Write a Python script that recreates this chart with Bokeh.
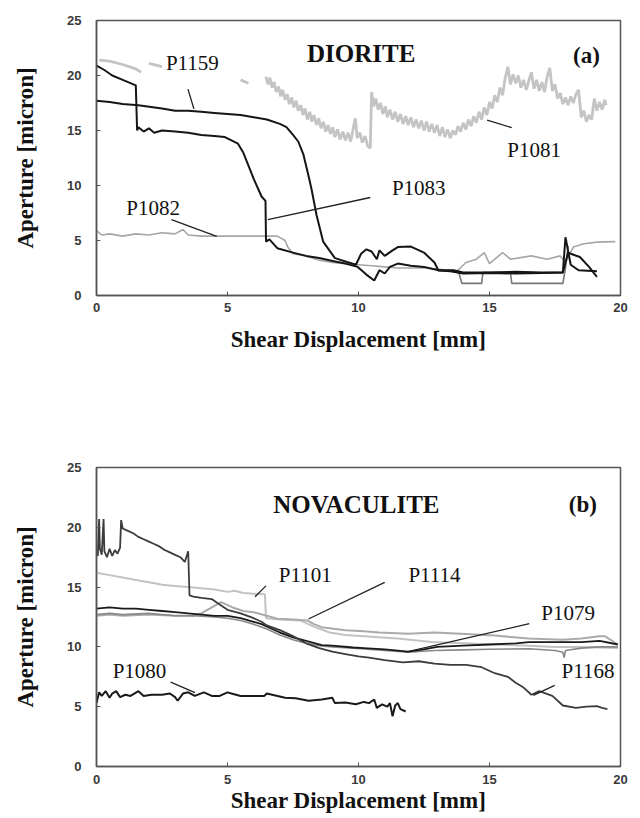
from bokeh.plotting import figure
from bokeh.layouts import column
from bokeh.models import Label, FixedTicker, Range1d
from bokeh.embed import file_html
from bokeh.resources import INLINE

NaN = float("nan")

# ---------------- Panel (a): DIORITE ----------------
P1081_x = [0.1, 0.5, 1.0, 1.5, 1.7, NaN, 2.0, 2.5, NaN, 5.5, 5.8, NaN,
           6.46, 6.55, 6.62, 6.7, 6.78, 6.86, 6.95, 7.03, 7.1, 7.2, 7.28, 7.36, 7.45, 7.53, 7.62, 7.7, 7.8, 7.88,
           7.96, 8.05, 8.14, 8.22, 8.3, 8.4, 8.48, 8.57, 8.66, 8.75, 8.84, 8.93, 9.02, 9.1, 9.2, 9.3, 9.4, 9.5,
           9.6, 9.7, 9.8, 9.88, 9.95, 10.05, 10.15, 10.25, 10.35, 10.45, 10.5, 10.58, 10.66, 10.75, 10.84, 10.93,
           11.02, 11.1, 11.2, 11.3, 11.4, 11.5, 11.6, 11.7, 11.8, 11.9, 12.0, 12.1, 12.2, 12.3, 12.4, 12.5, 12.6,
           12.7, 12.8, 12.9, 13.0, 13.1, 13.2, 13.3, 13.4, 13.5, 13.6, 13.7, 13.8, 13.9, 14.0, 14.1, 14.2, 14.3,
           14.4, 14.5, 14.6, 14.7, 14.8, 14.9, 15.0, 15.1, 15.2, 15.3, 15.4, 15.5, 15.6, 15.7, 15.8, 15.9, 16.0,
           16.1, 16.2, 16.3, 16.4, 16.5, 16.6, 16.7, 16.8, 16.9, 17.0, 17.1, 17.2, 17.3, 17.4, 17.5, 17.6, 17.7,
           17.8, 17.9, 18.0, 18.1, 18.2, 18.3, 18.4, 18.5, 18.6, 18.7, 18.8, 18.9, 19.0, 19.1, 19.2, 19.3, 19.4, 19.45]
P1081_y = [21.4, 21.3, 21.0, 20.6, 20.3, NaN, 21.1, 20.8, NaN, 19.6, 19.3, NaN,
           19.9, 19.2, 19.8, 18.9, 19.4, 18.5, 19.0, 18.1, 18.7, 17.8, 18.3, 17.4, 18.0, 17.1, 17.7, 16.8, 17.3, 16.4,
           17.0, 16.0, 16.7, 15.8, 16.4, 15.5, 16.1, 15.2, 15.8, 14.9, 15.5, 14.7, 15.3, 14.4, 15.1, 14.2, 14.9, 14.1,
           14.8, 14.0, 15.2, 16.1, 14.3, 14.8, 13.9, 14.5, 13.6, 13.4, 18.5, 17.2, 17.9, 16.9, 17.5, 16.5,
           17.2, 16.2, 16.9, 16.0, 16.7, 15.8, 16.5, 15.6, 16.3, 15.5, 16.2, 15.3, 16.0, 15.2, 15.9, 15.0, 15.8,
           14.9, 15.6, 14.8, 15.5, 14.5, 15.3, 14.4, 15.1, 14.3, 15.0, 14.6, 15.4, 14.9, 15.7, 15.1, 16.0, 15.4,
           16.3, 15.7, 16.7, 16.0, 17.1, 16.4, 17.6, 17.0, 18.2, 17.6, 18.9, 18.2, 19.8, 20.8, 19.2, 20.1, 19.3,
           20.0, 18.9, 19.6, 18.7, 19.5, 20.3, 18.8, 19.6, 18.6, 19.4, 18.5, 19.9, 20.7, 18.6, 19.2, 17.9, 18.4,
           17.4, 18.0, 17.3, 18.1, 17.5, 18.3, 18.7, 16.2, 16.8, 15.8, 16.4, 16.0, 17.9, 16.8, 17.6, 16.9, 17.8, 17.3]

P1159_x = [0.0, 0.5, 1.0, 1.6, 2.5, 3.0, 3.5, 4.0, 4.5, 5.0, 5.5, 6.0, 6.5, 7.0, 7.25, 7.5, 7.7, 7.9, 8.1, 8.2,
           8.4, 8.65, 9.1, 9.9, 10.1, 10.3, 10.5, 10.7, 10.8, 11.0, 11.3, 11.5, 12.0, 12.5, 12.9, 13.05, 13.5,
           14.0, 15.0, 16.0, 17.0, 17.8, 18.0, 18.1, 18.45, 18.8, 19.1]
P1159_y = [17.7, 17.6, 17.4, 17.3, 17.0, 16.8, 16.8, 16.7, 16.6, 16.5, 16.4, 16.2, 16.0, 15.6, 15.3, 14.6, 14.0, 12.8,
           10.8, 9.75, 7.3, 4.9, 3.4, 2.8, 3.8, 4.2, 4.0, 3.3, 4.1, 3.6, 4.1, 4.4, 4.45, 3.9, 3.0, 2.27, 2.2,
           2.0, 2.05, 2.0, 2.05, 2.1, 3.9, 3.8, 3.5, 2.6, 1.7]

P1083_x = [0.0, 0.3, 0.6, 1.0, 1.5, 1.55, 1.6, 1.8, 2.0, 2.2, 2.5, 3.0, 3.5, 4.0, 4.5, 4.9, 5.4, 5.6, 5.8, 6.0,
           6.3, 6.45, 6.47, 6.6, 6.9, 7.5, 8.0, 8.5, 9.1, 9.5, 9.97, 10.3, 10.6, 10.8, 11.0, 11.2, 11.5, 12.0,
           12.5, 13.05, 13.6, 14.0, 15.0, 16.0, 17.0, 17.8, 17.9, 18.1, 18.4, 19.1]
P1083_y = [20.9, 20.5, 20.0, 19.6, 19.1, 15.0, 15.3, 14.9, 15.2, 14.8, 15.0, 14.9, 14.8, 14.6, 14.5, 14.4, 13.8,
           13.0, 11.8, 10.6, 9.0, 8.6, 4.9, 5.1, 4.3, 3.9, 3.6, 3.4, 3.1, 2.9, 2.6, 1.9, 1.36, 2.3, 2.0, 2.6, 2.9,
           2.7, 2.6, 2.3, 2.3, 2.1, 2.1, 2.15, 2.1, 2.1, 5.3, 2.8, 2.3, 2.2]

P1082_x = [0.0, 0.2, 0.5, 1.0, 1.5, 2.0, 2.5, 3.0, 3.3, 3.5, 4.0, 4.5, 6.9, 7.2, 7.3, 7.5, 8.0, 8.5, 9.0, 9.5,
           10.0, 10.5, 11.0, 11.5, 12.0, 12.5, 13.0, 13.5, 13.8, 14.1, 14.5, 14.8, 15.0, 15.5, 15.8, 16.6, 17.2,
           17.7, 17.9, 18.2, 18.6, 19.1, 19.8]
P1082_y = [5.9, 5.5, 5.6, 5.4, 5.6, 5.5, 5.7, 5.6, 6.0, 5.5, 5.4, 5.4, 5.4, 5.0, 4.4, 3.8, 3.6, 3.2, 3.0, 2.9,
           2.8, 2.7, 2.6, 2.5, 2.5, 2.5, 2.4, 2.3, 2.3, 3.0, 3.3, 3.9, 2.9, 3.9, 3.3, 3.6, 3.3,
           3.6, 3.0, 4.4, 4.7, 4.85, 4.9]

STEP_x = [13.8, 13.95, 14.7, 14.75, 15.8, 15.85, 17.8, 17.9, 18.0]
STEP_y = [2.3, 1.1, 1.1, 2.1, 2.1, 1.1, 1.1, 2.5, 4.5]

# ---------------- Panel (b): NOVACULITE ----------------
P1168_x = [0.0, 0.05, 0.1, 0.13, 0.2, 0.27, 0.3, 0.4, 0.5, 0.6, 0.7, 0.8, 0.9, 0.94, 1.0, 1.2, 1.4, 1.6, 1.8,
           2.0, 2.2, 2.4, 2.6, 2.8, 3.0, 3.2, 3.37, 3.5, 3.55, 3.7, 4.0, 4.4, 4.6, 4.8, 5.0, 5.5, 6.0, 6.3, 6.5,
           7.0, 7.5, 8.0, 8.5, 9.0, 9.5, 10.0, 10.4, 11.0, 11.7, 12.3, 12.9, 13.5, 14.1, 14.7, 15.2, 15.7, 16.0,
           16.3, 16.6, 16.9, 17.4, 17.8, 18.3, 18.7, 19.1, 19.3, 19.5]
P1168_y = [18.0, 17.6, 20.7, 18.2, 17.7, 20.7, 18.0, 17.5, 18.2, 17.6, 18.1, 17.8, 18.3, 20.6, 19.9, 19.7, 19.5,
           19.2, 19.0, 18.8, 18.6, 18.4, 18.1, 17.9, 17.7, 17.5, 17.1, 18.0, 14.3, 14.2, 14.1, 14.0, 13.7, 13.4,
           13.1, 12.8, 12.4, 12.1, 11.8, 11.4, 10.9, 10.3, 9.9, 9.6, 9.4, 9.2, 9.1, 8.9, 8.7, 8.8, 8.6, 8.5, 8.5,
           8.3, 7.8, 7.5, 7.0, 6.6, 6.0, 6.3, 5.9, 5.1, 4.9, 5.0, 5.05, 4.9, 4.8]

P1079_x = [0.0, 0.5, 1.0, 1.5, 2.0, 2.5, 3.0, 3.5, 4.0, 4.5, 5.0, 5.5, 6.0, 6.3, 6.6, 7.0, 7.5, 8.0, 8.6, 9.0,
           9.8, 10.2, 11.0, 11.9, 12.5, 13.0, 14.0, 15.0, 16.0, 16.5, 17.5, 18.5, 19.2, 19.9]
P1079_y = [13.2, 13.3, 13.2, 13.2, 13.1, 13.0, 12.9, 12.8, 12.7, 12.6, 12.6, 12.4, 12.1, 11.9, 11.6, 11.2, 10.8,
           10.5, 10.15, 10.1, 9.95, 9.9, 9.8, 9.6, 9.8, 10.0, 10.1, 10.2, 10.3, 10.4, 10.4, 10.4, 10.5, 10.2]

GRAY_x = [0.0, 0.5, 1.0, 2.0, 3.0, 3.7, 4.5, 5.0, 5.5, 6.0, 6.5, 7.0, 7.5, 8.0, 8.5, 9.0, 10.1, 11.0, 11.9,
          12.9, 14.0, 15.0, 16.5, 17.5, 17.8, 17.85, 17.9, 18.5, 19.2, 19.9]
GRAY_y = [12.7, 12.8, 12.7, 12.8, 12.6, 12.6, 12.5, 12.4, 12.2, 11.9, 11.5, 11.0, 10.6, 10.3, 10.1, 10.0, 9.85,
          9.7, 9.55, 9.7, 9.75, 9.8, 9.85, 9.7, 9.55, 9.1, 9.7, 9.9, 10.0, 10.0]

P1101_x = [0.0, 0.5, 1.0, 1.5, 2.0, 2.5, 3.0, 3.5, 4.0, 4.5, 5.0, 5.27, 5.6, 6.0, 6.43, 6.47, 7.0, 7.8, 8.3,
           8.9, 9.5, 10.2, 11.5, 12.8, 14.0, 15.2, 16.5, 17.5, 18.5, 19.9]
P1101_y = [16.2, 16.0, 15.8, 15.6, 15.4, 15.2, 15.1, 15.0, 14.9, 14.8, 14.6, 14.7, 14.5, 14.45, 14.4, 12.4, 12.3,
           12.2, 11.7, 11.2, 11.0, 10.9, 10.7, 10.4, 10.3, 10.2, 10.1, 10.0, 10.0, 9.9]

P1114_x = [0.0, 0.5, 1.0, 2.0, 3.0, 3.7, 4.0, 4.4, 4.76, 4.9, 5.2, 5.6, 6.0, 6.5, 6.9, 7.5, 8.06, 8.3, 8.6,
           9.5, 10.2, 10.8, 11.9, 12.9, 13.9, 15.2, 16.5, 17.8, 18.5, 19.2, 19.4, 19.9]
P1114_y = [12.6, 12.7, 12.6, 12.7, 12.6, 12.6, 12.8, 13.3, 13.75, 13.6, 13.3, 13.0, 12.9, 12.6, 12.35, 12.3,
           12.2, 11.9, 11.65, 11.4, 11.3, 11.2, 11.1, 11.2, 11.1, 10.95, 10.7, 10.6, 10.7, 10.9, 10.9, 10.2]

P1080_x = [0.0, 0.1, 0.2, 0.35, 0.5, 0.6, 0.75, 0.9, 1.1, 1.3, 1.6, 1.8, 2.1, 2.5, 2.8, 3.0, 3.1, 3.3, 3.5,
           3.75, 4.1, 4.4, 4.7, 5.0, 5.15, 5.5, 6.0, 6.4, 6.5, 7.2, 7.6, 8.1, 8.6, 9.0, 9.1, 9.5, 9.9, 10.2,
           10.4, 10.6, 10.7, 10.9, 11.1, 11.2, 11.3, 11.4, 11.5, 11.6, 11.8]
P1080_y = [5.3, 6.2, 5.9, 6.3, 5.75, 6.1, 6.3, 5.8, 6.0, 5.9, 6.3, 5.9, 6.0, 6.0, 6.1, 5.8, 5.5, 6.1, 6.2,
           5.9, 6.2, 5.9, 5.9, 6.2, 6.1, 5.9, 5.9, 5.9, 6.1, 5.75, 5.7, 5.5, 5.6, 5.75, 5.3, 5.35, 5.2, 5.4,
           5.3, 5.6, 4.9, 5.2, 5.0, 5.3, 4.2, 5.1, 5.3, 4.8, 4.6]

# Axis ticks
X_TICKS = [0, 5, 10, 15, 20]
Y_TICKS = [0, 5, 10, 15, 20, 25]

# Labels and leaders (data coords)
A_LABELS = ["P1159", "P1081", "P1083", "P1082"]
A_LAB_X = [3.66, 16.7, 12.3, 2.16]
A_LAB_Y = [21.1, 13.2, 9.75, 8.0]
A_LEAD = [(3.49, 18.76, 3.72, 16.95), (14.91, 15.95, 15.85, 15.26),
          (10.45, 8.91, 6.54, 6.89), (2.86, 6.89, 4.59, 5.38)]

B_LABELS = ["P1101", "P1114", "P1079", "P1168", "P1080"]
B_LAB_X = [7.97, 12.9, 18.0, 18.76, 1.64]
B_LAB_Y = [16.0, 16.0, 12.8, 7.97, 7.97]
B_LEAD = [(6.47, 15.1, 6.05, 14.2), (11.0, 15.4, 8.09, 12.33), (16.52, 11.94, 11.8, 9.56),
          (17.49, 6.78, 16.67, 5.94), (2.83, 7.06, 3.76, 6.17)]

SERIF = "Liberation Serif"
SANS = "Liberation Sans"
FRAME = "#555555"


def make_fig(top, bottom, frame_h, x_label_standoff, tick_standoff):
    p = figure(frame_width=524, frame_height=frame_h, x_range=Range1d(0, 20), y_range=Range1d(0, 25),
               output_backend="svg", toolbar_location=None,
               min_border_left=96, min_border_right=16, min_border_top=top, min_border_bottom=bottom)
    p.xgrid.visible = False
    p.ygrid.visible = False
    p.outline_line_color = FRAME
    p.outline_line_width = 1.5
    p.background_fill_color = "white"
    p.border_fill_color = "white"
    p.xaxis.ticker = FixedTicker(ticks=X_TICKS)
    p.yaxis.ticker = FixedTicker(ticks=Y_TICKS)
    for ax in (p.xaxis[0], p.yaxis[0]):
        ax.axis_line_color = FRAME
        ax.axis_line_width = 1.5
        ax.major_tick_in = 4
        ax.major_tick_out = 0
        ax.major_tick_line_color = FRAME
        ax.minor_tick_line_color = None
        ax.major_label_text_font = SANS
        ax.major_label_text_font_style = "bold"
        ax.major_label_text_font_size = "13px"
        ax.major_label_text_color = "#3a3a3a"
        ax.axis_label_text_font = SERIF
        ax.axis_label_text_font_style = "bold"
        ax.axis_label_text_font_size = "23px"
        ax.axis_label_text_color = "#111111"
    p.xaxis.axis_label = "Shear Displacement [mm]"
    p.yaxis.axis_label = "Aperture [micron]"
    p.xaxis.major_label_standoff = tick_standoff
    p.xaxis.axis_label_standoff = x_label_standoff
    p.yaxis.major_label_standoff = 15
    p.yaxis.axis_label_standoff = 26
    return p


def add_text(p, txt, x, y, size, bold):
    p.add_layout(Label(x=x, y=y, text=txt, text_font=SERIF, text_font_size=size,
                       text_font_style="bold" if bold else "normal", text_color="#111111",
                       text_align="center", text_baseline="middle"))


# Panel (a)
p1 = make_fig(20, 100, 275, 12, 7)
p1.line(P1081_x, P1081_y, line_color="#c4c4c4", line_width=2.8)
p1.line(P1082_x, P1082_y, line_color="#a6a6a6", line_width=1.6)
p1.line(STEP_x, STEP_y, line_color="#777777", line_width=1.6)
p1.line(P1159_x, P1159_y, line_color="#151515", line_width=2)
p1.line(P1083_x, P1083_y, line_color="#151515", line_width=2)
for (x0, y0, x1, y1) in A_LEAD:
    p1.segment(x0=[x0], y0=[y0], x1=[x1], y1=[y1], line_color="#222222", line_width=1.3)
add_text(p1, "DIORITE", 10.1, 22.0, "25px", True)
add_text(p1, "(a)", 18.7, 21.8, "23px", True)
for t, x, y in zip(A_LABELS, A_LAB_X, A_LAB_Y):
    add_text(p1, t, x, y, "21px", False)

# Panel (b)
p2 = make_fig(72, 52, 299, 1, 8)
p2.line(P1101_x, P1101_y, line_color="#c2c2c2", line_width=2)
p2.line(P1114_x, P1114_y, line_color="#aaaaaa", line_width=2)
p2.line(GRAY_x, GRAY_y, line_color="#888888", line_width=1.6)
p2.line(P1079_x, P1079_y, line_color="#1a1a1a", line_width=1.8)
p2.line(P1168_x, P1168_y, line_color="#3c3c3c", line_width=1.8)
p2.line(P1080_x, P1080_y, line_color="#1a1a1a", line_width=2)
for (x0, y0, x1, y1) in B_LEAD:
    p2.segment(x0=[x0], y0=[y0], x1=[x1], y1=[y1], line_color="#222222", line_width=1.3)
add_text(p2, "NOVACULITE", 9.92, 21.9, "25px", True)
add_text(p2, "(b)", 18.56, 21.9, "23px", True)
for t, x, y in zip(B_LABELS, B_LAB_X, B_LAB_Y):
    add_text(p2, t, x, y, "21px", False)

layout = column(p1, p2, spacing=0)
open("out.html", "w").write(file_html(layout, INLINE))
